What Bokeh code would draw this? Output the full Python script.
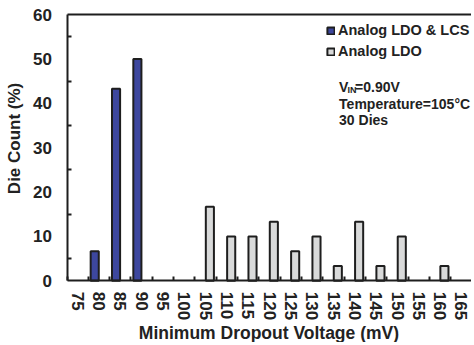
import math
from bokeh.plotting import figure
from bokeh.models import (Range1d, FixedTicker, Label, Legend, LegendItem,
                          ColumnDataSource, LinearAxis)
from bokeh.embed import file_html
from bokeh.resources import INLINE

# ---- data ----
categories = ["75", "80", "85", "90", "95", "100", "105", "110", "115", "120",
              "125", "130", "135", "140", "145", "150", "155", "160", "165"]
ldo_lcs = [0, 6.67, 43.33, 50, 0, 0, 0, 0, 0, 0, 0, 0, 0, 0, 0, 0, 0, 0, 0]
ldo = [0, 0, 0, 0, 0, 0, 16.67, 10, 10, 13.33, 6.67, 10, 3.33, 13.33, 3.33, 10, 0, 3.33, 0]
y_ticks = [0, 10, 20, 30, 40, 50, 60]
y_minor = [5, 15, 25, 35, 45, 55]

BLUE = "#3D479E"
GRAY = "#D9DADA"
EDGE = "#1E1E1E"
TXT = "#222222"
FONT = "Liberation Sans"

n = len(categories)
idx = list(range(n))
X0, X1 = -0.5, 18.47      # plotted category span
Y0, Y1 = 0, 60            # plotted value span

p = figure(width=471, height=342, output_backend="svg", toolbar_location=None,
           x_range=Range1d(-3.619, X1), y_range=Range1d(-13.91, 63.2),
           min_border_left=0, min_border_top=0, min_border_bottom=0,
           min_border_right=0)
p.outline_line_color = None
p.grid.visible = False
p.background_fill_color = "white"
p.border_fill_color = "white"

src1 = ColumnDataSource(dict(x=[i - 0.2 for i, v in zip(idx, ldo_lcs) if v > 0],
                             top=[v for v in ldo_lcs if v > 0]))
src2 = ColumnDataSource(dict(x=[i + 0.2 for i, v in zip(idx, ldo) if v > 0],
                             top=[v for v in ldo if v > 0]))
r1 = p.vbar(x="x", top="top", bottom=0, width=0.38, source=src1,
            fill_color=BLUE, line_color=EDGE, line_width=2)
r2 = p.vbar(x="x", top="top", bottom=0, width=0.38, source=src2,
            fill_color=GRAY, line_color=EDGE, line_width=2)

# x axis (at value 0)
xa = p.xaxis[0]
xa.fixed_location = Y0
xa.bounds = (X0, X1)
xa.ticker = FixedTicker(ticks=idx, minor_ticks=[i - 0.5 for i in idx])
xa.major_label_overrides = {i: c for i, c in zip(idx, categories)}
xa.major_label_orientation = "vertical"
xa.major_tick_in = 0
xa.major_tick_out = 0
xa.minor_tick_in = 4
xa.minor_tick_out = 0
xa.minor_tick_line_width = 2
xa.minor_tick_line_color = EDGE
xa.axis_line_width = 2
xa.axis_line_color = EDGE
xa.major_label_text_font = FONT
xa.major_label_text_font_style = "bold"
xa.major_label_text_font_size = "17px"
xa.major_label_text_color = TXT
xa.major_label_standoff = 11

# y axis (at left edge of first category)
ya = p.yaxis[0]
ya.fixed_location = X0
ya.bounds = (Y0, Y1)
ya.ticker = FixedTicker(ticks=y_ticks, minor_ticks=y_minor)
ya.major_tick_in = 0
ya.major_tick_out = 0
ya.minor_tick_in = 4
ya.minor_tick_out = 0
ya.minor_tick_line_width = 2
ya.minor_tick_line_color = EDGE
ya.axis_line_width = 2
ya.axis_line_color = EDGE
ya.major_label_text_font = FONT
ya.major_label_text_font_style = "bold"
ya.major_label_text_font_size = "17px"
ya.major_label_text_color = TXT
ya.major_label_standoff = 15

# top border line
top = LinearAxis(fixed_location=Y1, bounds=(X0, X1), ticker=FixedTicker(ticks=[]),
                 axis_line_width=2, axis_line_color=EDGE,
                 major_tick_in=0, major_tick_out=0, minor_tick_in=0, minor_tick_out=0)
p.add_layout(top, "above")

# axis titles
title_style = dict(text_font=FONT, text_font_style="bold", text_color=TXT,
                   text_align="center", text_baseline="middle")
p.add_layout(Label(x=8.97, y=-11.77, text="Minimum Dropout Voltage (mV)",
                   text_font_size="17.5px", **title_style))
p.add_layout(Label(x=-2.94, y=32.1, text="Die Count (%)", angle=math.pi / 2,
                   text_font_size="17px", **title_style))

# legend
legend = Legend(items=[LegendItem(label="Analog LDO & LCS", renderers=[r1]),
                       LegendItem(label="Analog LDO", renderers=[r2])],
                location=(326, 281), padding=0, margin=0, spacing=1,
                glyph_width=9, glyph_height=9, label_standoff=3, label_height=20,
                border_line_color=None, background_fill_alpha=0,
                label_text_font=FONT, label_text_font_style="bold",
                label_text_font_size="14.5px", label_text_color=TXT)
p.add_layout(legend)

# annotation
ax = 12.26
common = dict(text_font=FONT, text_font_style="bold", text_color=TXT,
              text_baseline="middle")
p.add_layout(Label(x=ax, y=43.6, text="V", text_font_size="14px", **common))
p.add_layout(Label(x=ax, y=43.6, y_offset=-3, x_offset=8.5, text="IN",
                   text_font_size="9px", **common))
p.add_layout(Label(x=ax, y=43.6, x_offset=16, text="=0.90V", text_font_size="14px", **common))
p.add_layout(Label(x=ax, y=39.8, text="Temperature=105\u00b0C", text_font_size="14px", **common))
p.add_layout(Label(x=ax, y=36.2, text="30 Dies", text_font_size="14px", **common))

open("out.html", "w").write(file_html(p, INLINE))
